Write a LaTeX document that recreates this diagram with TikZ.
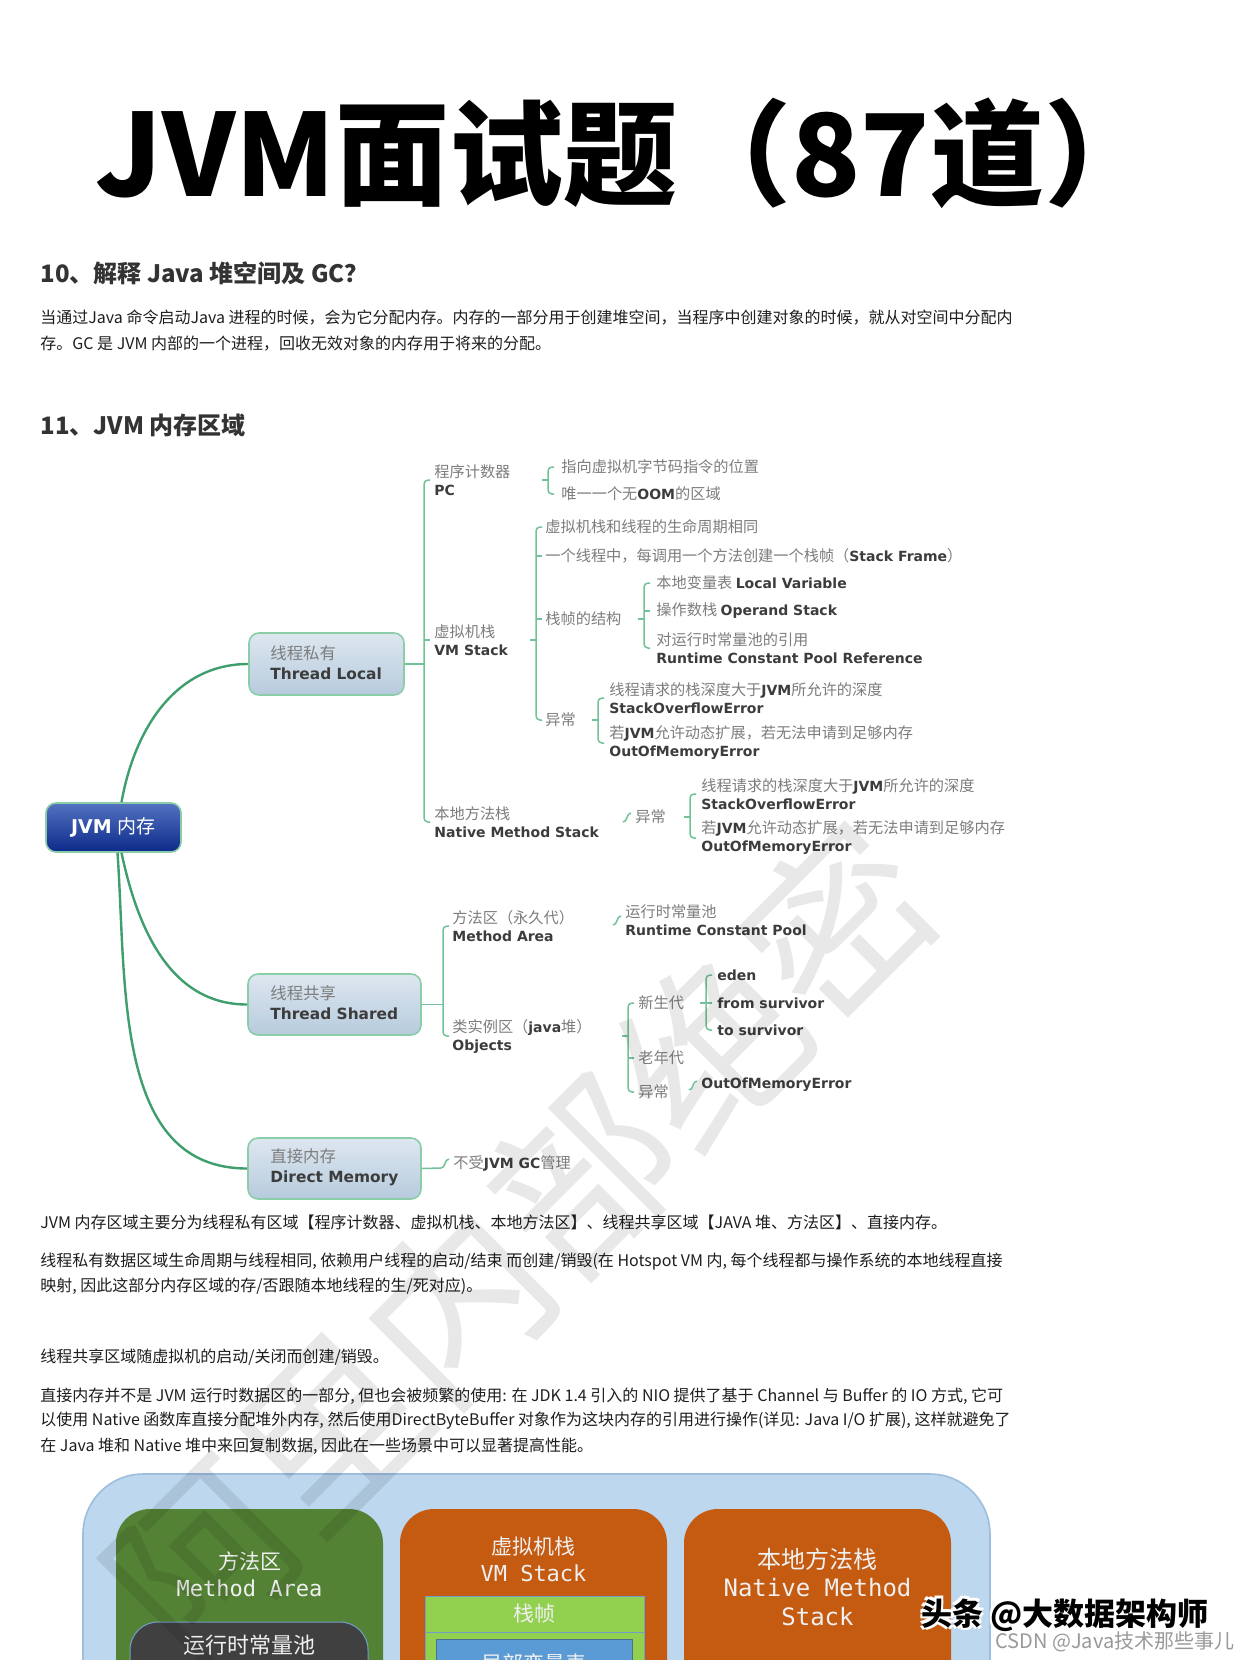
\documentclass[tikz,border=0pt]{standalone}
\usepackage{fontspec}
\usepackage{graphicx}
\setmainfont{DejaVu Sans}
\setmonofont{DejaVu Sans Mono}
\newfontfamily\cjk{Noto Sans CJK SC}
\usetikzlibrary{calc}

\definecolor{curvegreen}{HTML}{3E9E6C}
\definecolor{brgreen}{HTML}{72C298}
\definecolor{boxborder}{HTML}{8BCDA8}
\definecolor{boxtop}{HTML}{DDE7F0}
\definecolor{boxbot}{HTML}{B7CBDD}
\definecolor{zhgray}{HTML}{7D7D7D}
\definecolor{endark}{HTML}{3C3C3C}
\definecolor{jvmtop}{HTML}{5472C0}
\definecolor{jvmbot}{HTML}{0B2A8A}
\definecolor{txt}{HTML}{1E1E1E}
\definecolor{headc}{HTML}{333333}
\definecolor{outerblue}{HTML}{BDD7EE}
\definecolor{outerline}{HTML}{9DBEDD}
\definecolor{magreen}{HTML}{548235}
\definecolor{vmorange}{HTML}{C55A11}
\definecolor{poolgray}{HTML}{404040}
\definecolor{framegreen}{HTML}{92D050}
\definecolor{localblue}{HTML}{5B9BD5}
\definecolor{lighttxt}{HTML}{F0F0F0}
\definecolor{thinblue}{HTML}{6F9FC8}

\newcommand\zh[1]{{\cjk\fontsize{7.6}{9}\selectfont\color{zhgray}#1}}
\newcommand\en[1]{{\bfseries\color{endark}#1}}
\newcommand\zhb[1]{{\cjk\fontsize{8.2}{10}\selectfont\color{zhgray}#1}}
\newcommand\enb[1]{{\bfseries\fontsize{7.7}{10}\selectfont\color{endark}#1}}

\newcommand\brk[3]{\draw[br, rounded corners=2pt] ($(#1 |- #2.west)+(3pt,0)$) -- (#1 |- #2.west) -- (#1 |- #3.west) -- ($(#1 |- #3.west)+(3pt,0)$);}
\newcommand\mtick[2]{\draw[br] (#1 |- #2.west) -- ++(3pt,0);}
\newcommand\ptick[2]{\draw[br] (#1 |- #2.west) -- ++(-3pt,0);}
\newcommand\curl[1]{\draw[br] ($(#1.west)+(-6pt,-2.5pt)$) to[out=0,in=180] ($(#1.west)+(-2pt,2pt)$);}

\tikzset{
  mm/.style={anchor=west, inner sep=0pt, align=left, font=\fontsize{7}{9}\selectfont},
  boxtxt/.style={anchor=west, inner sep=0pt, align=left, font=\fontsize{7.7}{10}\selectfont},
  mmbox/.style={draw=boxborder, line width=0.8pt, rounded corners=5pt, top color=boxtop, bottom color=boxbot, inner sep=0pt},
  jvmbox/.style={draw=boxborder, line width=0.8pt, rounded corners=5pt, top color=jvmtop, bottom color=jvmbot, inner sep=0pt, minimum width=67.5pt, minimum height=24.5pt, text=white, font=\fontsize{9.5}{11}\selectfont},
  curve/.style={draw=curvegreen, line width=1.2pt},
  br/.style={draw=brgreen, line width=0.75pt},
  para/.style={anchor=west, inner sep=0pt, font=\cjk\fontsize{8}{10}\selectfont, text=txt},
  head/.style={anchor=west, inner sep=0pt, font=\cjk\bfseries\fontsize{12}{14}\selectfont, text=headc},
  zhw/.style={font=\cjk\fontsize{10.5}{12}\selectfont, text=lighttxt, inner sep=0pt},
  monow/.style={font=\ttfamily\fontsize{11}{12}\selectfont, text=lighttxt, inner sep=0pt},
}

\begin{document}
\begin{tikzpicture}[x=0.5pt,y=-0.5pt]
\useasboundingbox (0,0) rectangle (1242,1660);
\fill[white] (0,0) rectangle (1242,1660);

% Title and first section
\node[anchor=west, inner sep=0pt, font=\cjk\bfseries\fontsize{57}{62}\selectfont] (title) at (95,153) {JVM面试题（87道）};
\node[head] (h10) at (40,273) {10、解释 Java 堆空间及 GC？};
\node[para] (p1) at (40,318) {当通过Java 命令启动Java 进程的时候，会为它分配内存。内存的一部分用于创建堆空间，当程序中创建对象的时候，就从对空间中分配内};
\node[para] (p2) at (40,344) {存。GC 是 JVM 内部的一个进程，回收无效对象的内存用于将来的分配。};
\node[head] (h11) at (40,425) {11、JVM 内存区域};

% Mind map boxes
\node[jvmbox] (jvm) at (113.5,827.5) {\textbf{JVM} {\cjk 内存}};
\node[mmbox, minimum width=77.5pt, minimum height=31pt] (tl) at (326.5,664) {};
\node[boxtxt] (tlt) at (270,663) {\zhb{线程私有}\\\enb{Thread Local}};
\node[mmbox, minimum width=86.5pt, minimum height=30.5pt] (ts) at (334.5,1004.5) {};
\node[boxtxt] (tst) at (270,1003) {\zhb{线程共享}\\\enb{Thread Shared}};
\node[mmbox, minimum width=86.5pt, minimum height=30.5pt] (dm) at (334.5,1168.5) {};
\node[boxtxt] (dmt0) at (270,1167) {\zhb{直接内存}\\\enb{Direct Memory}};

\draw[curve] ([xshift=4pt]jvm.north) to[out=80,in=180] (tl.west);
\draw[curve] ([xshift=4pt]jvm.south) to[out=-78,in=180] (ts.west);
\draw[curve] ([xshift=2pt]jvm.south) to[out=-86,in=180] (dm.west);

% Thread local children
\node[mm] (pc) at (434,480) {\zh{程序计数器}\\\en{PC}};
\node[mm] (vms) at (434,640) {\zh{虚拟机栈}\\\en{VM Stack}};
\node[mm] (nms) at (434,822) {\zh{本地方法栈}\\\en{Native Method Stack}};
\coordinate (b1) at (424,0);
\brk{b1}{pc}{nms}
\mtick{b1}{vms}
\draw[br] (tl.east) -- (b1 |- tl.east);

\node[mm] (pc1) at (561,467) {\zh{指向虚拟机字节码指令的位置}};
\node[mm] (pc2) at (561,494) {\zh{唯一一个无}\en{OOM}\zh{的区域}};
\coordinate (b2) at (548,0);
\brk{b2}{pc1}{pc2}
\ptick{b2}{pc}

\node[mm] (v1) at (545,527) {\zh{虚拟机栈和线程的生命周期相同}};
\node[mm] (v2) at (545,556) {\zh{一个线程中，每调用一个方法创建一个栈帧（}\en{Stack Frame}\zh{）}};
\node[mm] (v3) at (545,619) {\zh{栈帧的结构}};
\node[mm] (v4) at (545,720) {\zh{异常}};
\coordinate (b3) at (536,0);
\brk{b3}{v1}{v4}
\mtick{b3}{v2}
\mtick{b3}{v3}
\ptick{b3}{vms}

\node[mm] (f1) at (656,583) {\zh{本地变量表 }\en{Local Variable}};
\node[mm] (f2) at (656,611) {\zh{操作数栈 }\en{Operand Stack}};
\node[mm] (f3) at (656,648) {\zh{对运行时常量池的引用}\\\en{Runtime Constant Pool Reference}};
\coordinate (b4) at (644,0);
\brk{b4}{f1}{f3}
\mtick{b4}{f2}
\ptick{b4}{v3}

\node[mm] (e1) at (609,698) {\zh{线程请求的栈深度大于}\en{JVM}\zh{所允许的深度}\\\en{StackOverflowError}};
\node[mm] (e2) at (609,743) {\zh{若}\en{JVM}\zh{允许动态扩展，若无法申请到足够内存}\\\en{OutOfMemoryError}};
\coordinate (b5) at (598,0);
\brk{b5}{e1}{e2}
\ptick{b5}{v4}

\node[mm] (n0) at (635,817) {\zh{异常}};
\curl{n0}
\node[mm] (n1) at (701,794) {\zh{线程请求的栈深度大于}\en{JVM}\zh{所允许的深度}\\\en{StackOverflowError}};
\node[mm] (n2) at (701,838) {\zh{若}\en{JVM}\zh{允许动态扩展，若无法申请到足够内存}\\\en{OutOfMemoryError}};
\coordinate (b6) at (690,0);
\brk{b6}{n1}{n2}
\ptick{b6}{n0}

% Thread shared children
\node[mm] (ma) at (452,926) {\zh{方法区（永久代）}\\\en{Method Area}};
\node[mm] (obj) at (452,1036) {\zh{类实例区（}\en{java}\zh{堆）}\\\en{Objects}};
\coordinate (b7) at (443,0);
\brk{b7}{ma}{obj}
\draw[br] (ts.east) -- (b7 |- ts.east);

\node[mm] (rcp) at (625,920) {\zh{运行时常量池}\\\en{Runtime Constant Pool}};
\curl{rcp}

\node[mm] (g1) at (638,1003) {\zh{新生代}};
\node[mm] (g2) at (638,1058) {\zh{老年代}};
\node[mm] (g3) at (638,1092) {\zh{异常}};
\coordinate (b8) at (628,0);
\brk{b8}{g1}{g3}
\mtick{b8}{g2}
\ptick{b8}{obj}

\node[mm] (y1) at (717,975) {\en{eden}};
\node[mm] (y2) at (717,1003) {\en{from survivor}};
\node[mm] (y3) at (717,1030) {\en{to survivor}};
\coordinate (b9) at (706,0);
\brk{b9}{y1}{y3}
\mtick{b9}{y2}
\ptick{b9}{g1}

\node[mm] (oom) at (701,1085) {\en{OutOfMemoryError}};
\curl{oom}

\node[mm] (dmt) at (453,1163) {\zh{不受}\en{JVM GC}\zh{管理}};
\draw[br] (dm.east) -- ($(dmt.west)+(-6pt,-2.5pt)$) to[out=0,in=180] ($(dmt.west)+(-2pt,2pt)$);

% Paragraphs
\node[para] (q1) at (40,1222) {JVM 内存区域主要分为线程私有区域【程序计数器、虚拟机栈、本地方法区】、线程共享区域【JAVA 堆、方法区】、直接内存。};
\node[para] (q2) at (40,1261) {线程私有数据区域生命周期与线程相同, 依赖用户线程的启动/结束 而创建/销毁(在 Hotspot VM 内, 每个线程都与操作系统的本地线程直接};
\node[para] (q3) at (40,1286) {映射, 因此这部分内存区域的存/否跟随本地线程的生/死对应)。};
\node[para] (q4) at (40,1357) {线程共享区域随虚拟机的启动/关闭而创建/销毁。};
\node[para] (q5) at (40,1396) {直接内存并不是 JVM 运行时数据区的一部分, 但也会被频繁的使用: 在 JDK 1.4 引入的 NIO 提供了基于 Channel 与 Buffer 的 IO 方式, 它可};
\node[para] (q6) at (40,1421) {以使用 Native 函数库直接分配堆外内存, 然后使用DirectByteBuffer 对象作为这块内存的引用进行操作(详见: Java I/O 扩展), 这样就避免了};
\node[para] (q7) at (40,1446) {在 Java 堆和 Native 堆中来回复制数据, 因此在一些场景中可以显著提高性能。};

% Bottom diagram
\begin{scope}
\clip (0,0) rectangle (1242,1660);
\draw[fill=outerblue, draw=outerline, line width=0.8pt, rounded corners=30pt] (83,1474) rectangle (990,1780);
\fill[magreen, rounded corners=17pt] (116,1509) rectangle (383,1780);
\node[zhw] (mat) at (249.5,1561) {方法区};
\node[monow] (mae) at (249.5,1588) {Method Area};
\draw[fill=poolgray, draw=thinblue, line width=0.5pt, rounded corners=14pt] (130,1622) rectangle (368,1780);
\node[zhw, font=\cjk\fontsize{11}{12}\selectfont] (pool) at (249,1645) {运行时常量池};

\fill[vmorange, rounded corners=17pt] (400,1509) rectangle (667,1780);
\node[zhw] (vmt) at (533.5,1547) {虚拟机栈};
\node[monow] (vme) at (533.5,1573) {VM Stack};
\draw[fill=framegreen, draw=thinblue, line width=0.5pt] (425,1596) rectangle (644,1632);
\node[zhw] (zz) at (534.5,1614) {栈帧};
\draw[fill=framegreen, draw=thinblue, line width=0.5pt] (425,1632) rectangle (644,1780);
\draw[fill=localblue, draw=thinblue!70!black, line width=0.5pt] (436,1639) rectangle (632,1780);
\node[zhw] (lv) at (534,1663) {局部变量表};

\fill[vmorange, rounded corners=17pt] (684,1509) rectangle (951,1780);
\node[zhw, font=\cjk\fontsize{12}{13}\selectfont] (nt) at (817.5,1559) {本地方法栈};
\node[monow, font=\ttfamily\fontsize{12}{13}\selectfont] (ne1) at (817.5,1588) {Native Method};
\node[monow, font=\ttfamily\fontsize{12}{13}\selectfont] (ne2) at (817.5,1617) {Stack};
\end{scope}

% Watermarks
\node[rotate=45, font=\cjk\fontsize{90}{90}\selectfont, text=black, opacity=0.09, inner sep=0pt] (wm) at (520,1240) {阿里内部绝密};
\foreach \dx/\dy in {-1.2/-1.2,1.2/1.2,-1.2/1.2,1.2/-1.2} {
  \node[anchor=west, inner sep=0pt, font=\cjk\bfseries\fontsize{15.5}{17}\selectfont, text=white] at ([xshift=\dx pt, yshift=\dy pt]921,1615) {头条 @大数据架构师};
}
\node[anchor=west, inner sep=0pt, font=\cjk\bfseries\fontsize{15.5}{17}\selectfont, text=black] (tt) at (921,1615) {头条 @大数据架构师};
\node[anchor=west, inner sep=0pt, font=\cjk\fontsize{10}{11}\selectfont, text=black!40] (csdn) at (995,1642) {CSDN @Java技术那些事儿};
\end{tikzpicture}
\end{document}
